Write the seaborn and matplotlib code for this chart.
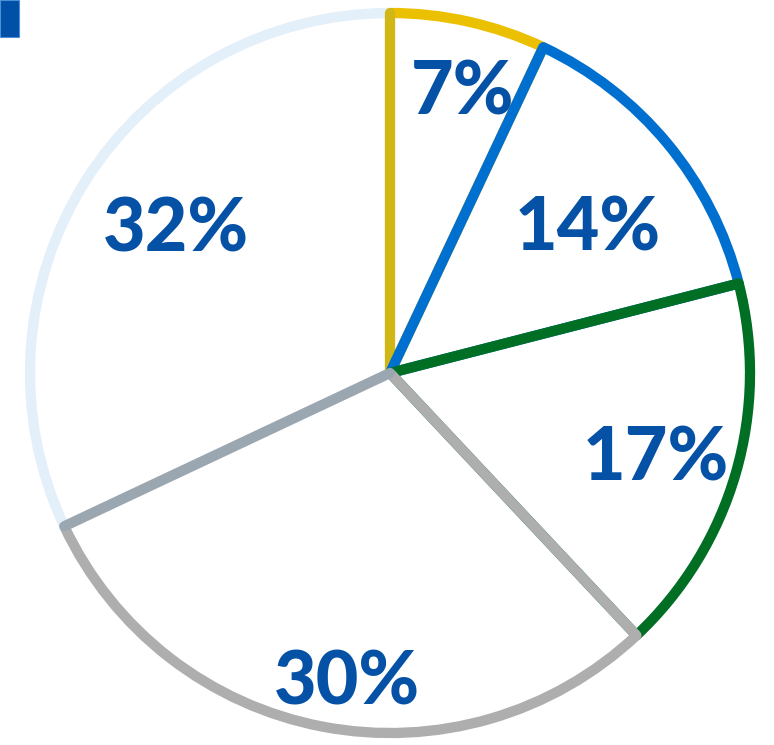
import numpy as np
import seaborn as sns
import matplotlib.pyplot as plt
from matplotlib.patches import Rectangle

sns.set_theme(style="white")
plt.rcParams['font.family'] = ['Lato', 'DejaVu Sans']

# data
shares = [7, 14, 17, 30, 32]
labels = ["7%", "14%", "17%", "30%", "32%"]
edge_colors = ["#EBC000", "#0070D0", "#006E23", "#AEAEAE", (0.0, 0.44, 0.82, 0.11)]
label_r = [0.82, 0.69, 0.77, 0.85, 0.725]
label_turn = [-1.6, -2.3, -0.5, 2.8, -2.6]  # degrees, nudge from the wedge middle

W, H = 774, 745
fig = plt.figure(figsize=(W / 100, H / 100), dpi=100)
ax = fig.add_axes([0, 0, 1, 1])

cx, cy, R = 390, H - 373, 360
# white fill first, then the outlines on top so no fill hides an edge
ax.pie(shares, startangle=90, counterclock=False, center=(cx, cy), radius=R,
       colors=["white"] * len(shares), wedgeprops=dict(linewidth=0))
wedges, _ = ax.pie(shares, startangle=90, counterclock=False,
                   center=(cx, cy), radius=R,
                   wedgeprops=dict(facecolor="none", linewidth=7.4,
                                   joinstyle="round"))
for w, c in zip(wedges, edge_colors):
    w.set_facecolor("none")
    w.set_edgecolor(c)

# percentage labels
for w, lab, rf, dt in zip(wedges, labels, label_r, label_turn):
    mid = np.deg2rad((w.theta1 + w.theta2) / 2 + dt)
    ax.text(cx + rf * R * np.cos(mid), cy + rf * R * np.sin(mid), lab,
            ha="center", va="center_baseline", fontsize=53, fontweight="black",
            color="#0451A5")

ax.set_xlim(0, W)
ax.set_ylim(0, H)
ax.set_aspect("equal")
ax.axis("off")

# small marker at top-left
fig.patches.append(Rectangle((0, 1 - 37 / H), 19 / W, 37 / H,
                             transform=fig.transFigure, facecolor="#0050A8",
                             edgecolor="#4D8FD6", linewidth=0.8))

fig.savefig("out.png", dpi=100)
